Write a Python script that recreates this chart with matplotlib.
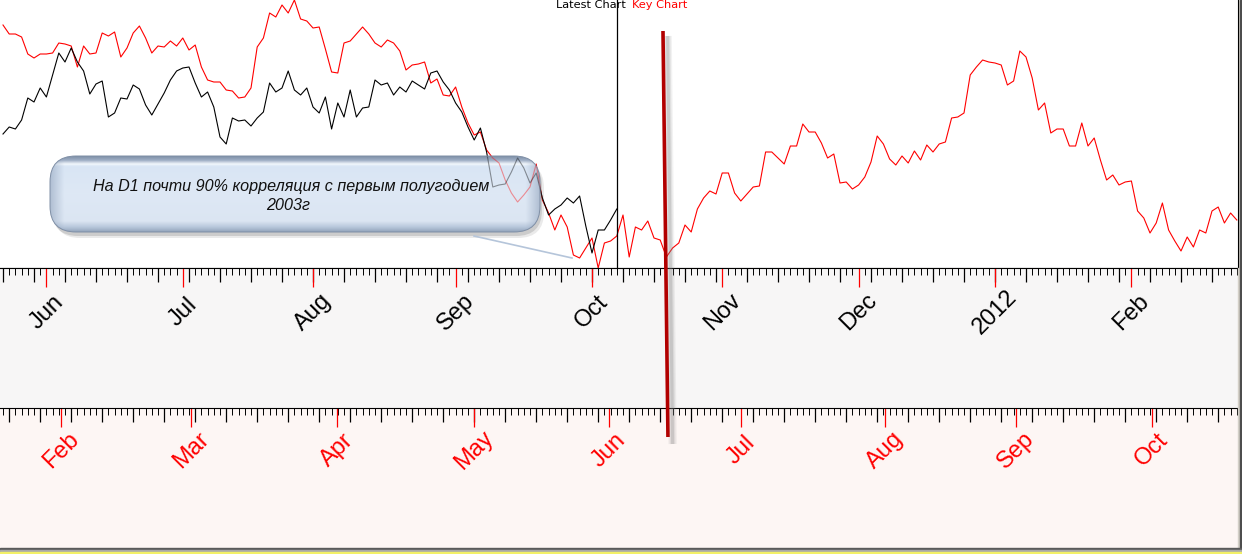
import numpy as np
import pandas as pd
import matplotlib
matplotlib.use("Agg")
import matplotlib.pyplot as plt
from matplotlib.patches import FancyBboxPatch, Rectangle
from matplotlib.transforms import blended_transform_factory

# key chart (2003), one value per bar, drawn over the whole width
key_close = [
    243, 234, 234, 231, 214, 210, 214, 214, 215, 225, 224, 222, 201, 222, 214, 215, 235, 232, 236, 211,
    220, 235, 242, 230, 215, 222, 221, 227, 222, 230, 218, 223, 201, 188, 186, 186, 178, 177, 170, 171,
    180, 221, 230, 255, 251, 263, 255, 268, 249, 247, 240, 241, 219, 196, 195, 225, 227, 234, 241, 234,
    225, 221, 228, 225, 217, 198, 203, 204, 206, 185, 189, 173, 172, 181, 161, 145, 133, 136, 118, 110,
    105, 88, 75, 66, 73, 81, 104, 68, 55, 38, 53, 41, 13, 10, 20, 30, 0, 25, 27, 32,
    53, 11, 41, 38, 47, 30, 28, 11, 20, 25, 43, 36, 59, 70, 77, 74, 95, 95, 75, 67,
    74, 81, 82, 116, 116, 110, 104, 122, 122, 144, 136, 136, 125, 110, 114, 85, 86, 79, 83, 91,
    106, 132, 124, 109, 103, 112, 105, 117, 108, 123, 116, 124, 126, 150, 151, 155, 193, 201, 208, 206,
    205, 203, 183, 187, 217, 211, 190, 158, 165, 135, 139, 139, 122, 122, 145, 122, 130, 108, 88, 93,
    83, 86, 87, 57, 50, 35, 45, 65, 38, 27, 17, 31, 21, 38, 35, 57, 61, 45, 55, 48,
]

# latest chart (2011), ends where the thin vertical line is
latest_close = [
    134, 141, 139, 148, 170, 166, 180, 171, 193, 215, 206, 220, 206, 197, 174, 184, 187, 151, 155, 170,
    169, 183, 179, 163, 153, 164, 175, 188, 197, 200, 201, 185, 171, 176, 161, 131, 124, 150, 147, 148,
    142, 150, 156, 185, 176, 180, 197, 178, 173, 180, 161, 155, 171, 139, 165, 151, 178, 151, 160, 161,
    188, 183, 185, 173, 181, 176, 187, 183, 179, 195, 197, 186, 178, 165, 156, 141, 128, 140, 116, 81,
    83, 84, 96, 110, 100, 85, 95, 70, 53, 59, 63, 70, 65, 72, 42, 15, 38, 38, 48, 59,
]

latest_dates = pd.bdate_range("2011-05-23", periods=len(key_close))

# month starts of the key chart, in bars of the common axis
key_month_pos = [9.4, 30.3, 53.9, 76.0, 97.7, 119.0, 142.3, 163.4, 185.3]
key_month_names = ["Feb", "Mar", "Apr", "May", "Jun", "Jul", "Aug", "Sep", "Oct"]

marker_bars = [106.45, 107.25]
note_lines = ["На D1 почти 90% корреляция с первым полугодием", "2003г"]

W, H = 1242, 554
STEP = 6.2
XLIM = (-3 / STEP, 1235 / STEP)
FONT = ["Liberation Sans", "DejaVu Sans"]


def frac(x0, y0, x1, y1):
    return [x0 / W, 1 - y1 / H, (x1 - x0) / W, (y1 - y0) / H]


fig = plt.figure(figsize=(W / 100, H / 100), dpi=100, facecolor="#d4d0c8")

# price area
ax = fig.add_axes(frac(0, 0, 1238, 268))
ax.set_facecolor("white")
ax.set_xlim(XLIM)
ax.set_ylim(0, 268)
ax.plot(np.arange(len(key_close)), key_close, color="#ff0000", lw=0.8)
ax.plot(np.arange(len(latest_close)), latest_close, color="black", lw=0.8)
ax.axvline(len(latest_close) - 1, color="black", lw=0.9)
for s in ["left", "top"]:
    ax.spines[s].set_visible(False)
ax.spines["right"].set_color("black")
ax.set_xticks([])
ax.set_yticks([])

# month starts of the latest chart
idx = [i for i in range(1, len(latest_dates))
       if latest_dates[i].month != latest_dates[i - 1].month]
latest_month_pos = idx
latest_month_names = [str(latest_dates[i].year) if latest_dates[i].month == 1
                      else latest_dates[i].strftime("%b") for i in idx]


def time_band(y0, y1, color, pos, names, label_color, phase, label_y):
    b = fig.add_axes(frac(0, y0, 1238, y1))
    b.set_facecolor(color)
    b.set_xlim(XLIM)
    b.set_ylim(y1 - y0, 0)
    for s in ["left", "right", "bottom"]:
        b.spines[s].set_visible(False)
    b.spines["top"].set_color("black")
    b.set_xticks([])
    b.set_yticks([])
    bars = np.arange(len(key_close))
    b.vlines(bars, 0, 7, color="black", lw=0.7)
    b.vlines(bars[phase::5], 0, 14, color="black", lw=0.9)
    b.vlines(pos, 0, 19, color="#ff0000", lw=0.9)
    for p, n in zip(pos, names):
        b.text(p, label_y, n, rotation=45, ha="center", va="center",
               rotation_mode="anchor", color=label_color, fontsize=17, family=FONT)
    return b


time_band(268, 408, "#f7f6f6", latest_month_pos, latest_month_names, "black", 0, 44)
time_band(408, 548, "#fdf6f4", key_month_pos, key_month_names, "#ff0000", 1, 42)

# overlay in pixel units
ov = fig.add_axes([0, 0, 1, 1])
ov.axis("off")

ov.text(556, 7.5, "Latest Chart", fontsize=8.2, color="black", va="baseline")
ov.text(632, 7.5, "Key Chart", fontsize=8.2, color="#ff0000", va="baseline")

# "now" marker with a soft shadow
trans = blended_transform_factory(ax.transData, ov.transData)
sb = [m + 0.75 for m in marker_bars]
for lw, a in [(6, 0.10), (4, 0.15), (2.2, 0.22)]:
    ov.plot(sb, [36, 444], transform=trans, color="#808080", lw=lw, alpha=a,
            solid_capstyle="butt")
ov.plot(marker_bars, [31, 437], transform=trans, color="#b20000", lw=2.6,
        solid_capstyle="butt")

# callout
px0, py0, pw, ph = 50, 156, 490, 76
for dx, dy, a in [(4, 6, 0.12), (2, 4, 0.2)]:
    ov.add_patch(FancyBboxPatch((px0 + dx, py0 + dy), pw, ph,
                                boxstyle="round,pad=0,rounding_size=26",
                                fc="#555555", ec="none", alpha=a, zorder=1))
pill = FancyBboxPatch((px0, py0), pw, ph, boxstyle="round,pad=0,rounding_size=26",
                      fc="none", ec="#7f8fa6", lw=0.7, transform=ov.transData,
                      zorder=3)
ov.add_patch(pill)

stops = [0.0, 0.05, 0.10, 0.13, 0.5, 0.86, 0.94, 1.0]
cols = np.array([[0.50, 0.57, 0.66], [0.62, 0.68, 0.77], [0.95, 0.97, 0.99],
                 [0.85, 0.90, 0.96], [0.87, 0.91, 0.96], [0.86, 0.90, 0.95],
                 [0.72, 0.78, 0.86], [0.58, 0.65, 0.74]])
yy = np.linspace(0, 1, 80)
xx = np.linspace(0, pw, 500)
vert = np.stack([np.interp(yy, stops, cols[:, k]) for k in range(3)], axis=1)
edge = np.clip(1 - np.minimum(xx, pw - xx) / 14, 0, 1)[None, :, None] * 0.55
dark = np.array([0.55, 0.62, 0.72])
img = vert[:, None, :] * (1 - edge) + dark * edge
im = ov.imshow(img, extent=(px0, px0 + pw, py0 + ph, py0), aspect="auto",
               interpolation="bilinear", zorder=2)
im.set_clip_path(pill)

# the series show faintly through the glassy callout
for series, c in [(key_close, "#ff0000"), (latest_close, "black")]:
    ln, = ov.plot(np.arange(len(series)), series, transform=ax.transData,
                  color=c, lw=0.8, alpha=0.4, zorder=2.5)
    ln.set_clip_path(pill)

ov.plot([474, 572], [236, 258], color="#b5c5da", lw=1.2, zorder=2)

ov.text(291, 187, note_lines[0], ha="center", va="center", fontsize=11.6,
        style="italic", color="#111111", family=FONT, zorder=4)
ov.text(288, 205, note_lines[1], ha="center", va="center", fontsize=11.6,
        style="italic", color="#111111", family=FONT, zorder=4)

# window frame
ov.add_patch(Rectangle((1238, 268), 2, 282, color="#d4d0c8"))
ov.add_patch(Rectangle((1239.6, 0), 2.4, 551, color="#4d4d4d"))
ov.add_patch(Rectangle((0, 548), W, 2, color="#5a5a5a"))
ov.add_patch(Rectangle((0, 550), W, 1.6, color="#a8a8a8"))
ov.add_patch(Rectangle((0, 551.6), W, 2.4, color="#f2f066"))

ov.set_xlim(0, W)
ov.set_ylim(H, 0)

fig.savefig("out.png", dpi=100, facecolor=fig.get_facecolor())
